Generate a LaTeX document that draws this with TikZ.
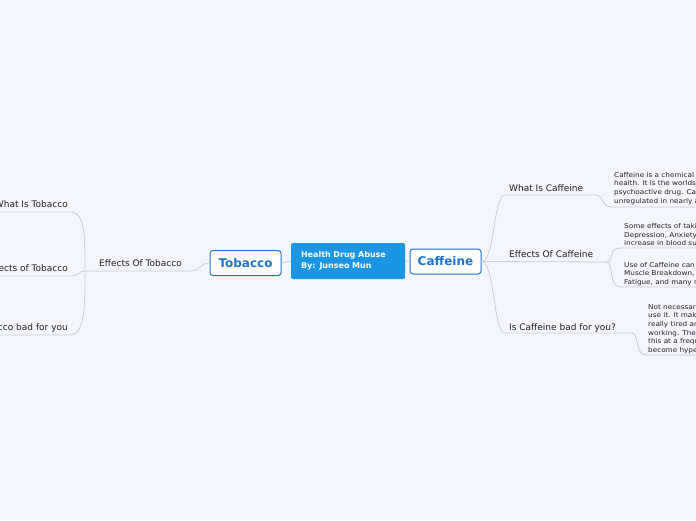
\documentclass[tikz,border=0pt]{standalone}
\usepackage{fontspec}
\setmainfont{DejaVu Sans}
\newfontfamily\notefont{DejaVu Sans}[FakeStretch=1.1]
\definecolor{mmBack}{HTML}{F3F6FD}
\definecolor{mmRoot}{HTML}{1B96E4}
\definecolor{mmBlue}{HTML}{1E73CC}
\definecolor{mmLine}{HTML}{CBCED9}
\definecolor{mmText}{HTML}{222222}

\tikzset{
  rootbox/.style={fill=mmRoot,text=white,rounded corners=2pt,inner xsep=10pt,text width=94pt,
    minimum height=36pt,align=left,font=\fontsize{8}{10.5}\selectfont\bfseries},
  mainbox/.style={draw=mmBlue,fill=white,text=mmBlue,line width=1pt,rounded corners=3pt,
    minimum width=71pt,minimum height=25pt,font=\fontsize{12}{13}\selectfont\bfseries},
  branch/.style={text=mmText,inner sep=0pt,font=\fontsize{9}{11}\selectfont},
  note/.style={text=mmText,inner sep=0pt,align=left,anchor=north west,font=\notefont\fontsize{6.6}{8.6}\selectfont},
  link/.style={draw=mmLine,line width=0.8pt},
}

\begin{document}
\begin{tikzpicture}[x=1pt,y=-1pt]
\fill[mmBack](0,0)rectangle(696,520);
\useasboundingbox(0,0)rectangle(696,520);
\clip(0,0)rectangle(696,520);

% centre
\node[rootbox](root) at (348,261){Health Drug Abuse\\By: Junseo Mun};
\node[mainbox](tob) at (245.5,263){Tobacco};
\node[mainbox](caf) at (445.5,261.5){Caffeine};
\draw[link](root.west)--(tob.east);
\draw[link](root.east)--(caf.west);

% tobacco side
\node[branch,anchor=base](etob) at (140.5,266){Effects Of Tobacco};
\coordinate(etobL) at (85,271);
\coordinate(etobR) at (190,271);
\draw[link](etobL)--(etobR) .. controls (201,271) and (199,263) .. (tob.west);

\node[branch,anchor=base east](wtob) at (68,207){What Is Tobacco};
\node[branch,anchor=base east](mtob) at (68,271){Effects of Tobacco};
\node[branch,anchor=base east](btob) at (68,330){Is Tobacco bad for you};
\coordinate(wtobE) at (70,212);
\coordinate(mtobE) at (70,276);
\coordinate(btobE) at (70,335);
\draw[link](-5,212)--(wtobE) .. controls (86,212) and (85,240) .. (etobL);
\draw[link](-5,276)--(mtobE) .. controls (80,276) and (78,271) .. (etobL);
\draw[link](-5,335)--(btobE) .. controls (86,335) and (85,300) .. (etobL);

% caffeine side
\node[branch,anchor=base west](wcaf) at (509,191){What Is Caffeine};
\node[branch,anchor=base west](ecaf) at (509,257){Effects Of Caffeine};
\node[branch,anchor=base west](bcaf) at (509,330){Is Caffeine bad for you?};
\coordinate(wcafR) at (597,195);
\coordinate(ecafR) at (607,262);
\coordinate(bcafR) at (632,333);
\draw[link](caf.east) .. controls (495,262) and (493,195) .. (505,195)--(wcafR);
\draw[link](caf.east)--(ecafR);
\draw[link](caf.east) .. controls (495,262) and (493,333) .. (505,333)--(bcafR);

\node[note](n1) at (614,172){Caffeine is a chemical n\\health. It is the worlds\\psychoactive drug. Caff\\unregulated in nearly a};
\node[note](n2) at (624,223.5){Some effects of takin\\Depression, Anxiety,\\increase in blood sug};
\node[note](n3) at (624,262){Use of Caffeine can a\\Muscle Breakdown, A\\Fatigue, and many n};
\node[note](n4) at (648,304){Not necessarily\\use it. It mak\\really tired an\\working. Ther\\this at a frequ\\become hype};
\draw[link](wcafR) .. controls (603,195) and (601,207) .. (612,207)--(700,207);
\draw[link](ecafR) .. controls (613,262) and (609,248) .. (620,248)--(700,248);
\draw[link](ecafR) .. controls (613,262) and (609,287) .. (620,287)--(700,287);
\draw[link](bcafR) .. controls (639,333) and (635,355) .. (646,355)--(700,355);
\end{tikzpicture}
\end{document}
